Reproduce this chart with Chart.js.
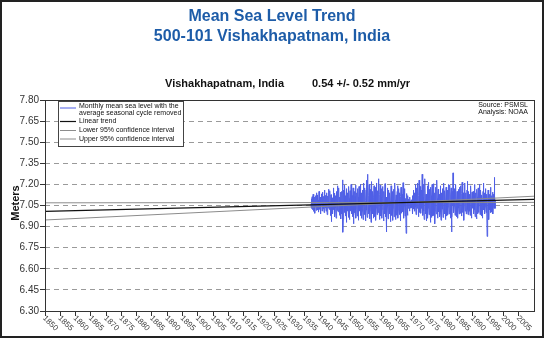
<!DOCTYPE html>
<html>
<head>
<meta charset="utf-8">
<script src="https://cdn.jsdelivr.net/npm/chart.js@4/dist/chart.umd.min.js"></script>
<style>
  html, body { margin: 0; padding: 0; background: #fff; }
  #wrap { width: 544px; height: 338px; }
</style>
</head>
<body>
<div id="wrap"><canvas id="slChart" width="544" height="338"></canvas></div>
<script>
// --- Data ---
const startYear = 1937; // first monthly value is January 1937
// monthly mean sea level (mm), seasonal cycle removed, one row per year
const monthlyMm = [
  7062,7041,7098,7075,7030,7112,7058,7020,7085,7130,7047,7008,
  7035,7072,7110,7054,6995,7083,7120,7040,7066,7015,7092,7140,
  7050,7018,7077,7125,7061,7003,7088,7045,7150,7070,7022,7097,
  7065,7110,7038,6990,7074,7133,7052,7086,7011,7095,7145,7060,
  7028,7081,7115,7047,7000,7068,7160,7092,7035,7078,7122,7049,
  7010,7087,7140,7063,6985,7052,7118,7074,7031,7166,7090,7044,
  7075,7020,7098,7155,7060,6978,7084,7127,7040,6935,7012,7070,
  7105,7048,6990,7080,7175,7066,7022,7093,7138,7051,6970,7062,
  7120,7085,7030,6960,7045,7150,7098,7015,7072,7190,7060,7005,
  7040,7128,7175,7050,6980,7065,7110,7000,7145,7082,6955,7068,
  7150,7090,6990,7060,7232,7105,6860,6950,7080,7160,7040,7000,
  7070,7195,7120,6975,7030,7110,7065,6930,7085,7170,7045,7010,
  7095,7140,7030,6965,7060,7185,7100,7020,6950,7075,7155,7050,
  7010,7088,7200,7130,6990,7045,7120,7065,6970,7105,7175,7040,
  6920,6985,7080,7150,7060,7000,7115,7195,7050,6960,7030,7090,
  7140,7055,6975,7045,7170,7110,7020,6945,7070,7185,7090,7010,
  7050,7125,7200,7060,6980,7035,7140,7075,6960,7010,7160,7100,
  7030,6950,7065,7210,7130,7040,6985,7090,7175,7060,6940,7020,
  7085,7160,7230,7100,7015,6965,7050,7272,7180,7070,6990,7040,
  7120,7200,7060,6955,7010,7095,7165,7040,6930,7000,7130,7220,
  7080,6990,7045,7150,7075,6960,7020,7110,7190,7065,6970,7055,
  7125,7180,7050,6945,7030,7105,7210,7090,6985,7040,7155,7070,
  7000,7085,7240,7160,7035,6950,7020,7130,7195,7060,6975,7045,
  7110,7170,7055,6960,7025,7090,7185,7100,7015,6940,7065,7150,
  7060,6990,7075,7205,7130,7030,6970,7045,7110,6862,6940,7050,
  7120,7175,7040,6955,7010,7095,7160,7070,6990,7035,7140,7080,
  7000,6935,7060,7190,7115,7025,6980,7085,7150,7055,6945,7030,
  7105,7165,7075,6970,7020,7140,7210,7090,7000,6950,7060,7125,
  7050,6980,7035,7150,7190,7070,6960,7015,7100,7170,7045,6985,
  7075,7140,7060,6940,7010,7115,7180,7080,6995,7040,7130,7065,
  7005,7090,7212,7150,7030,6960,7045,7110,7170,7055,6975,7035,
  7100,7050,6852,6940,7070,7135,7040,6980,7065,7120,7030,7085,
  7050,7095,7040,7010,7070,7110,7060,7030,7080,7045,7090,7060,
  7035,7080,7120,7055,6990,7070,7160,7100,7025,7065,7140,7075,
  7010,7090,7200,7130,7040,6985,7060,7175,7110,7030,7085,7210,
  7150,7060,6970,7035,7120,7230,7095,7000,7060,7185,7120,7040,
  6995,7070,7160,7100,7030,7272,7180,7050,6980,7110,7200,7075,
  7010,6950,7060,7170,7240,7090,6990,7045,7130,7060,6940,7020,
  7110,7190,7070,6960,7030,7150,7215,7080,6985,7040,7165,7100,
  7025,6930,7055,7180,7120,7010,6965,7090,7200,7070,6975,7040,
  7125,7205,7080,6980,7035,7140,7060,6920,7010,7115,7180,7050,
  6990,7060,7150,7230,7100,7020,6960,7070,7165,7095,7005,7050,
  7130,7075,6970,7040,7190,7110,7000,6945,7060,7140,7080,7025,
  7090,7170,7050,6965,7025,7120,7210,7085,6990,7045,7155,7070,
  7010,6950,7065,7180,7130,7035,6975,7090,7160,7060,6985,7040,
  7110,7200,7080,6990,7030,7140,7195,7070,6960,7020,7125,7175,
  7060,6862,6970,7080,7150,7050,7282,7190,7080,7000,7045,7120,
  7170,7070,6980,7040,7130,7200,7090,7010,6970,7060,7150,7095,
  7020,6960,7070,7165,7110,7030,6990,7085,7180,7075,6995,7045,
  7120,7190,7060,6975,7030,7135,7215,7095,7000,7050,7140,7070,
  7010,6945,7050,7155,7210,7090,7010,7065,7140,7080,6990,7035,
  7095,7160,7222,7100,7020,6985,7060,7150,7090,7010,7075,7130,
  7050,6980,7040,7125,7190,7085,7005,6960,7070,7145,7100,7030,
  7075,7150,7060,6990,7035,7120,7200,7095,7020,6970,7060,7140,
  7090,7010,6955,7050,7165,7110,7030,6990,7085,7175,7070,7000,
  7045,7130,7200,7080,6985,7025,7110,7160,7060,6975,7040,7125,
  7080,7010,6960,7060,7150,7210,7095,7020,7065,7140,7055,6990,
  7040,7115,7170,7070,7000,7050,7130,7060,6830,6920,7030,7100,
  7160,7080,7010,6950,7055,7130,7085,7020,7100,7180,7060,7000,
  7050,7120,7070,7005,7090,7145,7060,6990,7040,7130,7080,7030,
  7070,7250,7120,7030,7060,7090
];
// linear trend and 95% confidence lines (m), at the two ends of the axis
const trendYears = [1850, 2010];
const trendLevels = [7.008, 7.094];
const lowerLevels = [7.069, 7.072]; // 0.54 - 0.52 mm/yr
const upperLevels = [6.947, 7.116]; // 0.54 + 0.52 mm/yr
// axes
const yTickValues = [6.30, 6.45, 6.60, 6.75, 6.90, 7.05, 7.20, 7.35, 7.50, 7.65, 7.80];
const xTickYears = [1850, 1855, 1860, 1865, 1870, 1875, 1880, 1885, 1890, 1895, 1900, 1905,
  1910, 1915, 1920, 1925, 1930, 1935, 1940, 1945, 1950, 1955, 1960, 1965, 1970, 1975,
  1980, 1985, 1990, 1995, 2000, 2005];
const legendLabels = [
  ['Monthly mean sea level with the', 'average seasonal cycle removed'],
  ['Linear trend'],
  ['Lower 95% confidence interval'],
  ['Upper 95% confidence interval']
];

// --- Styles ---
const FONT = '"Liberation Sans", Arial, Helvetica, sans-serif';
const BLUE = '#4f5fe6';
const CI_GRAY = '#8c8c8c';

const monthlyPoints = monthlyMm.map((mm, i) => ({ x: startYear + i / 12, y: mm / 1000 }));
const linePoints = levels => trendYears.map((yr, i) => ({ x: yr, y: levels[i] }));

// --- Custom drawing: titles, frame, rotated x labels, legend ---
const decorPlugin = {
    id: 'decor',
    beforeDraw(chart) {
        const ctx = chart.ctx;
        ctx.save();
        ctx.fillStyle = '#fff';
        ctx.fillRect(0, 0, chart.width, chart.height);
        ctx.restore();
    },
    afterDraw(chart) {
        const { ctx, chartArea: a, scales } = chart;
        ctx.save();

        // plot frame
        ctx.strokeStyle = '#333';
        ctx.lineWidth = 1;
        ctx.strokeRect(a.left + 0.5, a.top + 0.5, a.right - a.left, a.bottom - a.top);

        // outer border
        ctx.strokeStyle = '#222';
        ctx.lineWidth = 2;
        ctx.strokeRect(1, 1, chart.width - 2, chart.height - 2);

        // titles
        ctx.fillStyle = '#1d5ca8';
        ctx.font = 'bold 16px ' + FONT;
        ctx.textAlign = 'center';
        ctx.textBaseline = 'alphabetic';
        ctx.fillText('Mean Sea Level Trend', chart.width / 2, 21);
        ctx.fillText('500-101 Vishakhapatnam, India', chart.width / 2, 41);

        ctx.fillStyle = '#111';
        ctx.font = 'bold 11px ' + FONT;
        ctx.textAlign = 'left';
        ctx.fillText('Vishakhapatnam, India', 165, 87);
        ctx.fillText('0.54 +/- 0.52 mm/yr', 312, 87);

        // y axis title
        ctx.save();
        ctx.translate(16, 203);
        ctx.rotate(-Math.PI / 2);
        ctx.textAlign = 'center';
        ctx.textBaseline = 'middle';
        ctx.fillText('Meters', 0, 0);
        ctx.restore();

        // rotated x tick labels
        ctx.fillStyle = '#444';
        ctx.font = '8px ' + FONT;
        ctx.textAlign = 'left';
        ctx.textBaseline = 'middle';
        xTickYears.forEach(yr => {
            const px = scales.x.getPixelForValue(yr);
            ctx.save();
            ctx.translate(px - 1, a.bottom + 6);
            ctx.rotate(Math.PI / 4);
            ctx.fillText(String(yr), 0, 0);
            ctx.restore();
        });

        // source note
        ctx.fillStyle = '#111';
        ctx.font = '7px ' + FONT;
        ctx.textAlign = 'right';
        ctx.fillText('Source: PSMSL', 528, 105);
        ctx.fillText('Analysis: NOAA', 528, 112);

        // legend box
        ctx.fillStyle = '#fff';
        ctx.fillRect(58.5, 101.5, 125, 45);
        ctx.strokeStyle = '#444';
        ctx.lineWidth = 1;
        ctx.strokeRect(58.5, 101.5, 125, 45);
        const legendRows = [108, 121.5, 130.5, 139];
        const legendColors = [BLUE, '#111', CI_GRAY, CI_GRAY];
        ctx.textAlign = 'left';
        legendLabels.forEach((lines, i) => {
            const y = legendRows[i];
            ctx.strokeStyle = legendColors[i];
            ctx.lineWidth = i === 1 ? 1.2 : 1;
            ctx.beginPath();
            ctx.moveTo(60, y);
            ctx.lineTo(76, y);
            ctx.stroke();
            ctx.fillStyle = '#111';
            if (lines.length === 2) {
                ctx.fillText(lines[0], 79, y - 2);
                ctx.fillText(lines[1], 79, y + 5);
            } else {
                ctx.fillText(lines[0], 79, y);
            }
        });

        ctx.restore();
    }
};

// --- Chart ---
const chartCtx = document.getElementById('slChart').getContext('2d');
const slChart = new Chart(chartCtx, {
    type: 'line',
    data: {
        datasets: [
            {
                label: 'Monthly mean sea level',
                data: monthlyPoints,
                borderColor: BLUE,
                borderWidth: 1,
                pointRadius: 0,
                tension: 0,
                order: 4
            },
            {
                label: 'Lower 95% confidence interval',
                data: linePoints(lowerLevels),
                borderColor: CI_GRAY,
                borderWidth: 1,
                pointRadius: 0,
                order: 3
            },
            {
                label: 'Upper 95% confidence interval',
                data: linePoints(upperLevels),
                borderColor: CI_GRAY,
                borderWidth: 1,
                pointRadius: 0,
                order: 2
            },
            {
                label: 'Linear trend',
                data: linePoints(trendLevels),
                borderColor: '#111',
                borderWidth: 1.3,
                pointRadius: 0,
                order: 1
            }
        ]
    },
    options: {
        responsive: false,
        animation: false,
        devicePixelRatio: 1,
        layout: { padding: { left: 0, right: 10, top: 100, bottom: 0 } },
        plugins: {
            legend: { display: false },
            tooltip: { enabled: false }
        },
        scales: {
            x: {
                type: 'linear',
                min: 1850,
                max: 2010,
                afterBuildTicks: s => { s.ticks = xTickYears.map(v => ({ value: v })); },
                afterFit: s => { s.height = 27; },
                ticks: { display: false },
                grid: { drawOnChartArea: false, drawTicks: true, tickLength: 5, tickColor: '#333' },
                border: { display: false }
            },
            y: {
                min: 6.30,
                max: 7.80,
                afterBuildTicks: s => { s.ticks = yTickValues.map(v => ({ value: v })); },
                afterFit: s => { s.width = 45; },
                ticks: {
                    padding: 1,
                    color: '#333',
                    font: { family: FONT, size: 10 },
                    callback: v => v.toFixed(2)
                },
                grid: {
                    color: c => (c.index === 0 || c.index === yTickValues.length - 1) ? 'rgba(0,0,0,0)' : '#9a9a9a',
                    lineWidth: 1,
                    tickLength: 5,
                    tickColor: '#333'
                },
                border: { display: false, dash: [5, 4] }
            }
        }
    },
    plugins: [decorPlugin]
});
</script>
</body>
</html>
